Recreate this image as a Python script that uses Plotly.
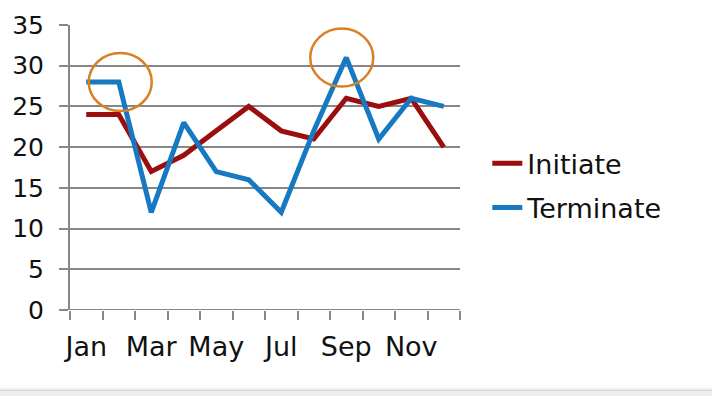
import plotly.graph_objects as go

months = ["Jan", "Feb", "Mar", "Apr", "May", "Jun", "Jul", "Aug", "Sep", "Oct", "Nov", "Dec"]
initiate = [24, 24, 17, 19, 22, 25, 22, 21, 26, 25, 26, 20]
terminate = [28, 28, 12, 23, 17, 16, 12, 22, 31, 21, 26, 25]
highlight_months = ["Feb", "Sep"]
y_ticks = [0, 5, 10, 15, 20, 25, 30, 35]

idx = list(range(len(months)))
FONT = "DejaVu Sans"
GRID = "#878787"
TOP, BOTTOM = 25, 86
PLOT_H = 396 - TOP - BOTTOM

fig = go.Figure()
fig.add_trace(go.Scatter(x=idx, y=initiate, mode="lines", name="Initiate",
                         legendgroup="a",
                         line=dict(color="#9A0E0E", width=5)))
fig.add_trace(go.Scatter(x=idx, y=terminate, mode="lines", name="Terminate",
                         legendgroup="b",
                         line=dict(color="#1679C2", width=5)))

# highlight ellipses anchored on the data points
offsets = {"Feb": (-30, 33), "Sep": (-36, 27)}
for m in highlight_months:
    i = months.index(m)
    dx0, dx1 = offsets[m]
    fig.add_shape(type="circle", xref="x", yref="y",
                  xsizemode="pixel", ysizemode="pixel",
                  xanchor=i, yanchor=terminate[i],
                  x0=dx0, x1=dx1, y0=-29, y1=29,
                  line=dict(color="#D98024", width=2.5), layer="above")

# bottom grey band
band_top = -(388 - 310) / PLOT_H
band_line = -(390.5 - 310) / PLOT_H
fig.add_shape(type="rect", xref="paper", yref="paper",
              x0=-0.2, x1=1.7, y0=band_top, y1=-(400 - 310) / PLOT_H,
              fillcolor="#EEEEEE", line=dict(width=0), layer="below")
fig.add_shape(type="line", xref="paper", yref="paper",
              x0=-0.2, x1=1.7, y0=band_line, y1=band_line,
              line=dict(color="#D6D6D6", width=1), layer="below")

fig.update_layout(
    width=712, height=396,
    margin=dict(l=70, r=252, t=TOP, b=BOTTOM, autoexpand=False),
    paper_bgcolor="white", plot_bgcolor="white",
    font=dict(family=FONT, size=25, color="#111111"),
    showlegend=True,
    legend=dict(x=1.07, y=0.436, xanchor="left", yanchor="middle",
                font=dict(family=FONT, size=27, color="#111111"),
                traceorder="grouped", tracegroupgap=6,
                itemwidth=30, bgcolor="rgba(0,0,0,0)"),
    xaxis=dict(range=[-0.5, len(months) - 0.5], automargin=False,
               tickmode="array", tickvals=idx[::2], ticktext=months[::2],
               ticks="", showgrid=False, zeroline=False,
               showline=False,
               minor=dict(tickmode="array",
                          tickvals=[i - 0.5 for i in range(len(months) + 1)],
                          ticks="outside", ticklen=9, tickwidth=2,
                          tickcolor=GRID, showgrid=False),
               tickfont=dict(family=FONT, size=27), ticklabelstandoff=18,
               fixedrange=True),
    yaxis=dict(range=[0, 35], tickmode="array", tickvals=y_ticks,
               automargin=False,
               showgrid=True, gridcolor=GRID, gridwidth=2,
               zeroline=False, showline=True, linecolor=GRID, linewidth=2,
               ticks="outside", ticklen=9, tickwidth=2, tickcolor=GRID,
               tickfont=dict(family=FONT, size=25), ticklabelstandoff=10,
               fixedrange=True),
)
fig.add_shape(type="line", xref="paper", yref="y", x0=0, x1=1, y0=0, y1=0,
              line=dict(color=GRID, width=2), layer="below")

fig.write_html("out.html", config={"displayModeBar": False},
               post_script="document.body.style.margin='0';document.body.style.overflow='hidden';")
